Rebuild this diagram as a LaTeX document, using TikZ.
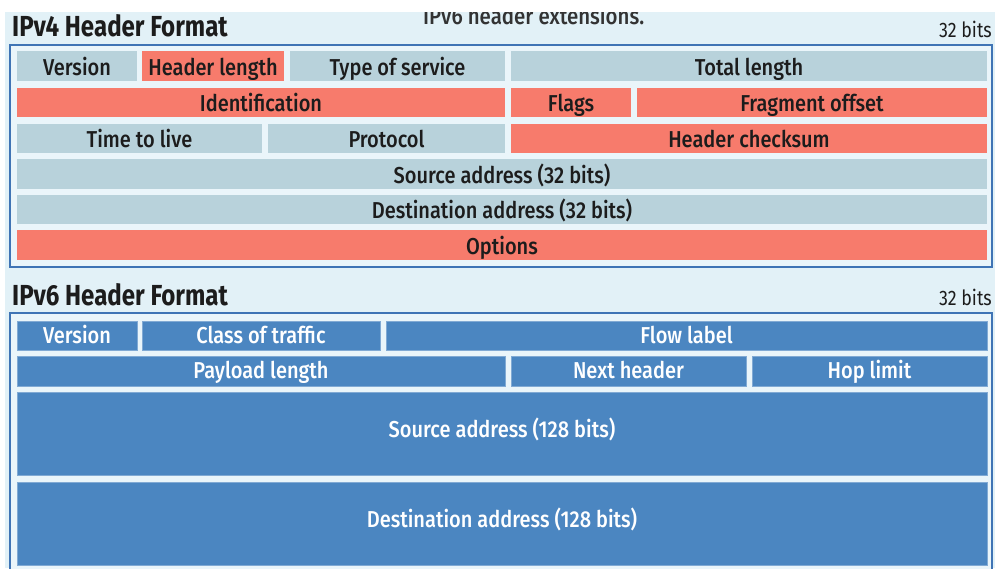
\documentclass[tikz,border=0pt]{standalone}
\usepackage{fontspec}
\setmainfont{Fira Sans}
\newfontfamily\fieldfont{Fira Sans}[UprightFont=* Medium, FakeStretch=0.87]
\newfontfamily\titlefont{Fira Sans}[UprightFont=* Bold, FakeStretch=0.83]
\newfontfamily\notefont{Fira Sans}[FakeStretch=0.85]
\definecolor{pagebg}{HTML}{E2F1F7}
\definecolor{framefill}{HTML}{EAF5FA}
\definecolor{frameline}{HTML}{3F74B5}
\definecolor{greyfield}{HTML}{B8D2DB}
\definecolor{redfield}{HTML}{F77B6C}
\definecolor{bluefield}{HTML}{4B86C1}
\definecolor{inkdark}{HTML}{1C1C1C}
\tikzset{
  field/.style={inner sep=0pt, outer sep=0pt, text depth=0pt, font=\fieldfont\fontsize{23}{23}\selectfont},
  v4grey/.style={field, fill=greyfield, text=inkdark, text height=18pt},
  v4red/.style={field, fill=redfield, text=inkdark, text height=18pt},
  v6blue/.style={field, fill=bluefield, draw=bluefield!70!white, line width=0.6pt, text=white, text height=15pt},
  v6tall/.style={v6blue, text height=7pt},
  frame/.style={draw=frameline, line width=2pt, fill=framefill},
  title/.style={anchor=base west, inner sep=0pt, text=inkdark, font=\titlefont\fontsize{29}{29}\selectfont},
  bits/.style={anchor=base east, inner sep=0pt, text=inkdark, font=\notefont\fontsize{21}{21}\selectfont},
  caption/.style={anchor=base west, inner sep=0pt, text=inkdark!90!white, font=\fieldfont\fontsize{23.5}{23.5}\selectfont},
}
% field box from (x1,y1) to (x2,y2), pixel-style coordinates
\newcommand\fieldbox[7]{%
  \pgfmathsetmacro\fw{#5-#3}\pgfmathsetmacro\fh{#6-#4}%
  \node[#2, minimum width=\fw pt, minimum height=\fh pt, anchor=north west] (#1) at (#3,#4) {#7};}
\begin{document}
\begin{tikzpicture}[x=1pt, y=-1pt]
\useasboundingbox (0,0) rectangle (995,568);
\clip (0,0) rectangle (995,568);
\fill[white] (0,0) rectangle (995,568);
\fill[pagebg] (5,12) rectangle (995,568);
% caption line running in from above, cut by the page edge
\begin{scope}
\clip (5,12) rectangle (995,568);
\node[caption] (caption) at (423,24) {IPv6 header extensions.};
\end{scope}

% ---------- IPv4 ----------
\node[title] (v4title) at (12,36) {IPv4 Header Format};
\node[bits] (v4bits) at (992,37) {32 bits};
\draw[frame] (10,45) rectangle (992,267);
\fieldbox{ver4}{v4grey}{17}{51}{137}{81}{Version}
\fieldbox{ihl}{v4red}{142}{51}{284}{81}{Header length}
\fieldbox{tos}{v4grey}{290}{51}{505}{81}{Type of service}
\fieldbox{totlen}{v4grey}{511}{51}{987}{81}{Total length}
\fieldbox{ident}{v4red}{17}{88}{505}{117}{Identification}
\fieldbox{flags}{v4red}{511}{88}{631}{117}{Flags}
\fieldbox{fragoff}{v4red}{637}{88}{987}{117}{Fragment offset}
\fieldbox{ttl}{v4grey}{17}{124}{262}{153}{Time to live}
\fieldbox{proto}{v4grey}{268}{124}{505}{153}{Protocol}
\fieldbox{hcsum}{v4red}{511}{124}{987}{153}{Header checksum}
\fieldbox{src4}{v4grey}{17}{159}{987}{189}{Source address (32 bits)}
\fieldbox{dst4}{v4grey}{17}{195}{987}{224}{Destination address (32 bits)}
\fieldbox{opts}{v4red}{17}{230}{987}{260}{Options}

% ---------- IPv6 ----------
\node[title] (v6title) at (12,305) {IPv6 Header Format};
\node[bits] (v6bits) at (992,305) {32 bits};
\draw[frame] (10,313) rectangle (992,575);
\fieldbox{ver6}{v6blue}{17}{321}{137}{350}{Version}
\fieldbox{tclass}{v6blue}{142}{321}{380}{350}{Class of traffic}
\fieldbox{flow}{v6blue}{386}{321}{987}{350}{Flow label}
\fieldbox{plen}{v6blue}{17}{356}{505}{386}{Payload length}
\fieldbox{nxt}{v6blue}{511}{356}{746}{386}{Next header}
\fieldbox{hop}{v6blue}{752}{356}{987}{386}{Hop limit}
\fieldbox{src6}{v6tall}{17}{392}{987}{475}{Source address (128 bits)}
\fieldbox{dst6}{v6tall}{17}{482}{987}{565}{Destination address (128 bits)}
\end{tikzpicture}
\end{document}
